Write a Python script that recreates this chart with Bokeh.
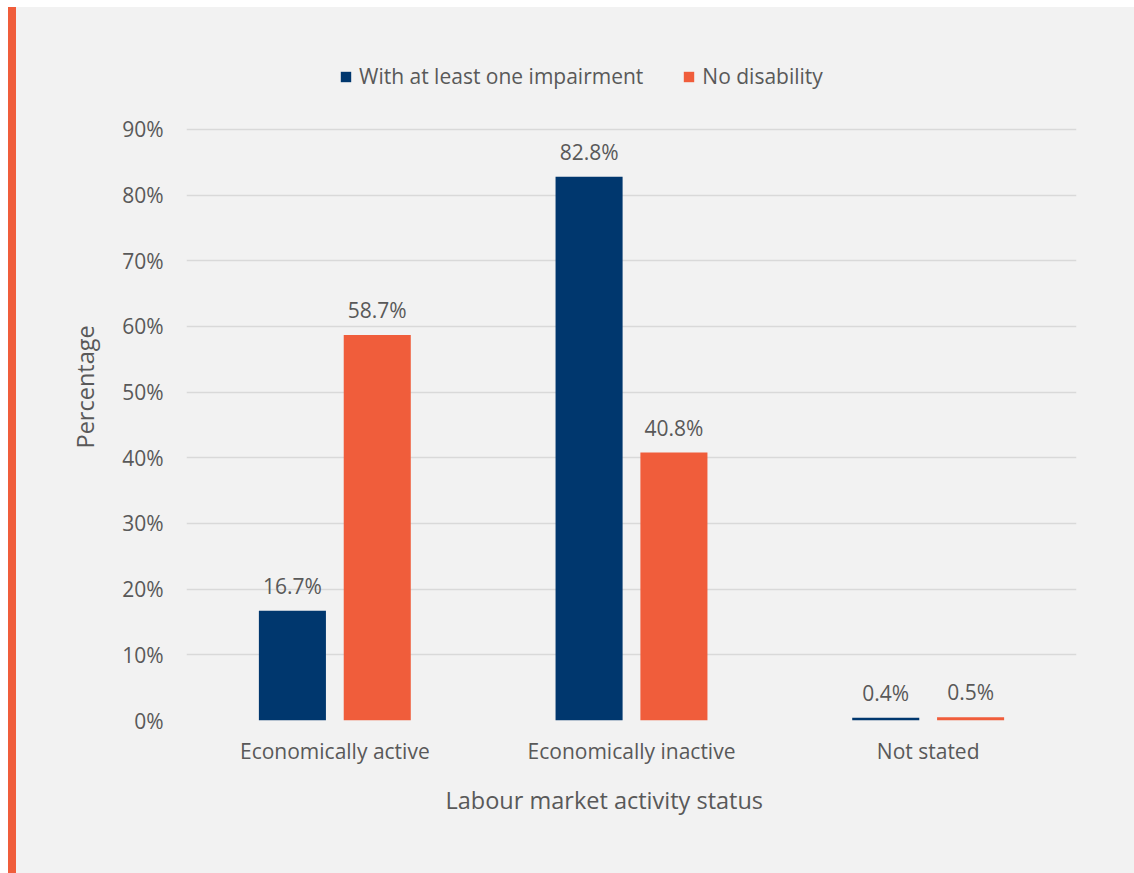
from bokeh.plotting import figure
from bokeh.models import (ColumnDataSource, FactorRange, Range1d, FixedTicker,
                          PrintfTickFormatter, Legend, LegendItem, Div, Spacer, Title)
from bokeh.layouts import column, row
from bokeh.transform import dodge
from bokeh.core.properties import value
from bokeh.embed import file_html
from bokeh.resources import INLINE

categories = ["Economically active", "Economically inactive", "Not stated"]
impairment = [16.7, 82.8, 0.4]
no_disability = [58.7, 40.8, 0.5]
series_names = ["With at least one impairment", "No disability"]
y_ticks = [0, 10, 20, 30, 40, 50, 60, 70, 80, 90]
x_title = "Labour market activity status"
y_title = "Percentage"

BLUE = "#00376e"
ORANGE = "#f05d3b"
BG = "#f2f2f2"
TXT = "#595959"
FONT = "Open Sans"

src = ColumnDataSource(dict(
    cat=categories,
    imp=impairment,
    nod=no_disability,
    imp_lbl=[f"{v:.1f}%" for v in impairment],
    nod_lbl=[f"{v:.1f}%" for v in no_disability],
))

p = figure(x_range=FactorRange(factors=categories, range_padding=0),
           y_range=Range1d(0, 103.55),
           width=1118, height=866, output_backend="svg", toolbar_location=None,
           min_border_left=170, min_border_right=58, min_border_top=33,
           min_border_bottom=153)
p.background_fill_color = BG
p.border_fill_color = BG
p.outline_line_color = None
p.styles = {"background-color": BG}

off = 0.143
w = 0.226
r1 = p.vbar(x=dodge("cat", -off, range=p.x_range), top="imp", width=w, source=src,
            fill_color=BLUE, line_color=None)
r2 = p.vbar(x=dodge("cat", off, range=p.x_range), top="nod", width=w, source=src,
            fill_color=ORANGE, line_color=None)

for key, lbl, dx in [("imp", "imp_lbl", -off), ("nod", "nod_lbl", off)]:
    p.text(x=dodge("cat", dx, range=p.x_range), y=key, text=lbl, source=src,
           text_align="center", text_baseline="bottom", y_offset=-11,
           text_font=value(FONT), text_font_size="21px", text_color=TXT)

p.yaxis.ticker = FixedTicker(ticks=y_ticks)
p.yaxis.formatter = PrintfTickFormatter(format="%d%%")
p.ygrid.ticker = FixedTicker(ticks=y_ticks)
p.ygrid.grid_line_color = "#d9d9d9"
p.ygrid.grid_line_width = 1.3
p.xgrid.grid_line_color = None

for ax in (p.xaxis, p.yaxis):
    ax.axis_line_color = None
    ax.major_tick_line_color = None
    ax.minor_tick_line_color = None
    ax.major_label_text_font = FONT
    ax.major_label_text_font_size = "21px"
    ax.major_label_text_color = TXT

p.yaxis.major_label_standoff = 17
p.xaxis.major_label_standoff = 10

# axis titles as side titles (the original is not centred on the plot area)
p.add_layout(Title(text=x_title, align="left", offset=259, standoff=29,
                   text_font=FONT, text_font_size="23.5px", text_color=TXT,
                   text_font_style="normal"), "below")
p.add_layout(Title(text=y_title, align="left", offset=272, standoff=38,
                   text_font=FONT, text_font_size="23.5px", text_color=TXT,
                   text_font_style="normal"), "left")

legend = Legend(items=[LegendItem(label=series_names[0], renderers=[r1]),
                       LegendItem(label=series_names[1], renderers=[r2])],
                orientation="horizontal", location=(153, 630),
                background_fill_alpha=0, border_line_color=None,
                glyph_width=13, glyph_height=13, label_standoff=7, spacing=39,
                padding=0, margin=0,
                label_text_font=FONT, label_text_font_size="21px",
                label_text_color=TXT)
p.add_layout(legend)

white = Div(width=8, height=866, margin=0, styles={"background-color": "#ffffff"})
stripe = Div(width=8, height=866, margin=0, styles={"background-color": ORANGE})
layout = column(Spacer(height=7, width=1134, margin=0),
                row(white, stripe, p, spacing=0), spacing=0)

open("out.html", "w").write(file_html(layout, INLINE))
